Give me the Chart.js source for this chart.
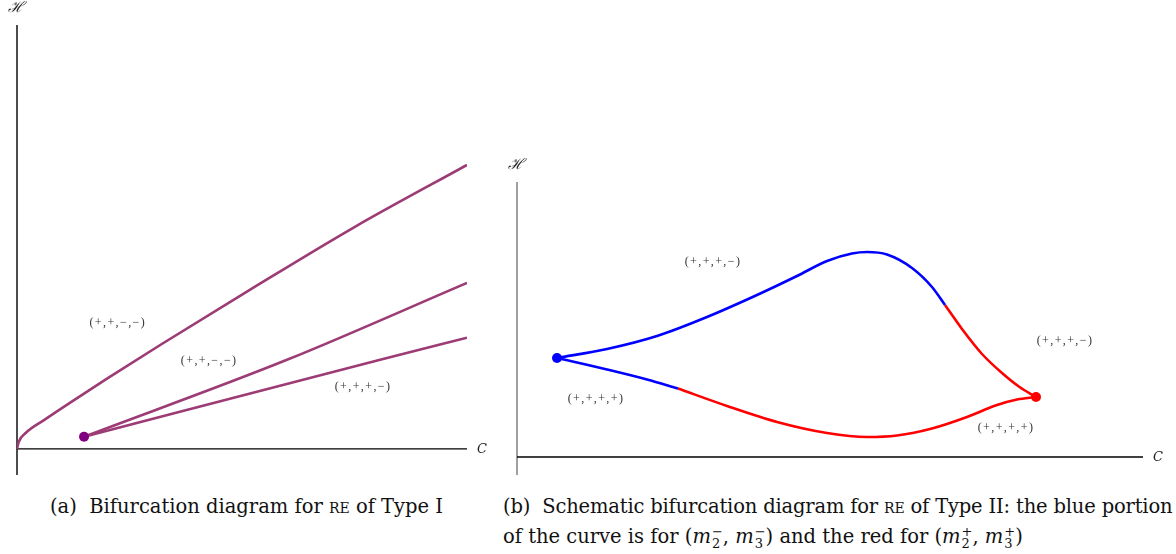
<!DOCTYPE html>
<html>
<head>
<meta charset="utf-8">
<script src="https://cdn.jsdelivr.net/npm/chart.js@4.4.1/dist/chart.umd.min.js"></script>
<style>
  body { margin: 0; background: #fff; width: 1176px; height: 554px; position: relative; overflow: hidden; }
  .panel { position: absolute; top: 0; height: 480px; }
  #leftPanel { left: 0; width: 490px; }
  #rightPanel { left: 500px; width: 676px; }
  .cap { position: absolute; font-family: 'DejaVu Serif', serif; font-size: 19.5px; color: #111; line-height: 30px; white-space: nowrap; }
  #capA { left: 50px; top: 492px; }
  #capB1 { left: 503px; top: 492px; width: 668px; letter-spacing: -0.17px; }
  #capB2 { left: 503px; top: 522px; }
  .sc { font-variant: small-caps; }
  .ss { display: inline-flex; flex-direction: column; vertical-align: middle; font-size: 13px; line-height: 12px; margin-left: 1px; }
  .m { font-style: italic; }
</style>
</head>
<body>
<div class="panel" id="leftPanel"><canvas id="leftChart"></canvas></div>
<div class="panel" id="rightPanel"><canvas id="rightChart"></canvas></div>
<div class="cap" id="capA">(a)&nbsp; Bifurcation diagram for <span class="sc">re</span> of Type I</div>
<div class="cap" id="capB1">(b)&nbsp; Schematic bifurcation diagram for <span class="sc">re</span> of Type II: the blue portion</div>
<div class="cap" id="capB2">of the curve is for (<span class="m">m</span><span class="ss"><span>−</span><span>2</span></span>, <span class="m">m</span><span class="ss"><span>−</span><span>3</span></span>) and the red for (<span class="m">m</span><span class="ss"><span>+</span><span>2</span></span>, <span class="m">m</span><span class="ss"><span>+</span><span>3</span></span>)</div>
<script>
// ---- (a) Type I ----
const upperC = [0, 0.04, 0.2, 0.6, 1.2, 2.0, 3.2, 5.2, 7.5, 10];
const upperH = [0, 0.16, 0.36, 0.64, 1.04, 1.56, 2.32, 3.55, 4.93, 6.31];
const middleC = [1.49, 6.0, 10];
const middleH = [0.27, 1.98, 3.69];
const lowerC = [1.49, 8.07, 10];
const lowerH = [0.27, 1.98, 2.47];
const cuspA = [1.49, 0.27];
const labelsA = [
    { text: '(+,+,−,−)', c: 2.24, h: 2.8 },
    { text: '(+,+,−,−)', c: 4.27, h: 1.96 },
    { text: '(+,+,+,−)', c: 7.69, h: 1.38 }
];

// ---- (b) Type II ----
const topBlueC = [0.8, 1.8, 2.8, 3.8, 4.8, 5.6, 6.2, 6.7, 7.0, 7.4, 7.9, 8.3, 8.56];
const topBlueH = [1.98, 2.16, 2.42, 2.80, 3.24, 3.62, 3.92, 4.07, 4.10, 4.05, 3.78, 3.40, 3.04];
const topRedC = [8.56, 8.9, 9.3, 9.7, 10.05, 10.38];
const topRedH = [3.04, 2.56, 2.06, 1.68, 1.40, 1.2];
const bottomBlueC = [0.8, 1.8, 2.6, 3.22];
const bottomBlueH = [1.98, 1.75, 1.55, 1.37];
const bottomRedC = [3.22, 4.2, 5.2, 6.2, 7.0, 7.6, 8.3, 9.0, 9.6, 10.0, 10.38];
const bottomRedH = [1.37, 1.02, 0.70, 0.48, 0.40, 0.43, 0.57, 0.80, 1.04, 1.15, 1.2];
const cuspBlue = [0.8, 1.98];
const cuspRed = [10.38, 1.2];
const labelsB = [
    { text: '(+,+,+,−)', c: 3.92, h: 3.9 },
    { text: '(+,+,+,+)', c: 1.58, h: 1.16 },
    { text: '(+,+,+,−)', c: 10.96, h: 2.32 },
    { text: '(+,+,+,+)', c: 9.78, h: 0.58 }
];

const pts = (xs, ys) => xs.map((x, i) => ({ x: x, y: ys[i] }));
const purple = '#9c3b74';

function curve(xs, ys, color) {
    return { data: pts(xs, ys), showLine: true, borderColor: color, borderWidth: 2.6, pointRadius: 0, cubicInterpolationMode: 'monotone', fill: false };
}
function dot(p, color, r) {
    return { data: [{ x: p[0], y: p[1] }], pointRadius: r, backgroundColor: color, borderColor: color, borderWidth: 0 };
}

// draws the two axes through the origin, the axis names and the region labels
const axesPlugin = {
    id: 'axesLines',
    beforeDatasetsDraw(chart, args, opts) {
        const { ctx, chartArea, scales } = chart;
        const x0 = scales.x.getPixelForValue(0);
        const y0 = scales.y.getPixelForValue(0);
        ctx.save();
        ctx.lineWidth = 1.4;
        ctx.strokeStyle = opts.yColor;
        ctx.beginPath();
        ctx.moveTo(x0, chartArea.top);
        ctx.lineTo(x0, chartArea.bottom);
        ctx.stroke();
        ctx.strokeStyle = '#000';
        ctx.beginPath();
        ctx.moveTo(x0, y0);
        ctx.lineTo(chartArea.right, y0);
        ctx.stroke();

        ctx.fillStyle = '#222';
        ctx.textAlign = 'center';
        ctx.textBaseline = 'middle';
        ctx.font = "italic 15px 'DejaVu Serif'";
        ctx.fillText('ℋ', x0 - 1, chartArea.top - 17);
        ctx.font = "italic 13px 'DejaVu Serif'";
        ctx.fillText('C', chartArea.right + 15, y0 + 1);

        ctx.font = "12px 'Liberation Serif'";
        ctx.fillStyle = '#333';
        ctx.letterSpacing = '1.4px';
        opts.labels.forEach(l => {
            ctx.fillText(l.text, scales.x.getPixelForValue(l.c), scales.y.getPixelForValue(l.h));
        });
        ctx.restore();
    }
};

const baseOptions = {
    responsive: true,
    maintainAspectRatio: false,
    animation: false,
    events: [],
    plugins: { legend: { display: false }, tooltip: { enabled: false } }
};

new Chart(document.getElementById('leftChart'), {
    type: 'scatter',
    data: {
        datasets: [
            dot(cuspA, '#800080', 5),
            curve(upperC, upperH, purple),
            curve(middleC, middleH, purple),
            curve(lowerC, lowerH, purple)
        ]
    },
    options: {
        ...baseOptions,
        layout: { padding: { left: 17, right: 23, top: 25, bottom: 5 } },
        scales: {
            x: { type: 'linear', min: 0, max: 10, display: false },
            y: { type: 'linear', min: -0.58, max: 9.42, display: false }
        },
        plugins: { ...baseOptions.plugins, axesLines: { yColor: '#000', labels: labelsA } }
    },
    plugins: [axesPlugin]
});

new Chart(document.getElementById('rightChart'), {
    type: 'scatter',
    data: {
        datasets: [
            dot(cuspBlue, '#0000ff', 5),
            dot(cuspRed, '#ff0000', 5),
            curve(topBlueC, topBlueH, '#0000ff'),
            curve(topRedC, topRedH, '#ff0000'),
            curve(bottomBlueC, bottomBlueH, '#0000ff'),
            curve(bottomRedC, bottomRedH, '#ff0000')
        ]
    },
    options: {
        ...baseOptions,
        layout: { padding: { left: 17, right: 33, top: 182, bottom: 5 } },
        scales: {
            x: { type: 'linear', min: 0, max: 12.52, display: false },
            y: { type: 'linear', min: -0.36, max: 5.5, display: false }
        },
        plugins: { ...baseOptions.plugins, axesLines: { yColor: '#777', labels: labelsB } }
    },
    plugins: [axesPlugin]
});
</script>
</body>
</html>
